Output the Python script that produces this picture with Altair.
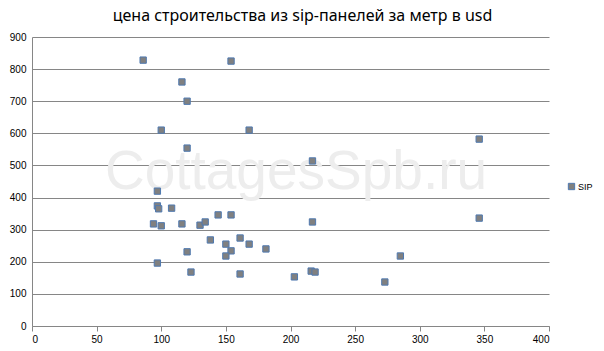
import altair as alt
import pandas as pd

# Data
area_m2 = [86, 154, 116, 120, 100, 168, 120, 346, 217, 97,
           97, 98, 108, 94, 100, 116, 130, 134, 144, 154,
           138, 150, 161, 168, 181, 120, 154, 150, 97, 123,
           161, 203, 216, 219, 273, 285, 346, 217]
price_usd = [828, 825, 760, 700, 610, 610, 554, 582, 514, 420,
             374, 365, 367, 318, 312, 318, 314, 324, 346, 346,
             268, 255, 274, 255, 240, 231, 234, 218, 196, 168,
             162, 153, 171, 168, 137, 218, 336, 324]
series = ["SIP"] * len(area_m2)

title_text = "цена строительства из sip-панелей за метр в usd"
watermark = "CottagesSpb.ru"

df = pd.DataFrame({"x": area_m2, "y": price_usd, "s": series})

W, H = 517, 289

mark = alt.Chart(df).mark_point(
    shape="square", filled=True, size=40, fill="#808080",
    stroke="#4f79b0", strokeWidth=1, opacity=1
).encode(
    x=alt.X("x:Q", scale=alt.Scale(domain=[0, 400], nice=False),
            axis=alt.Axis(values=list(range(0, 401, 50)), grid=False, title=None,
                          domainColor="#868686", tickColor="#868686", tickSize=5,
                          labelFontSize=10, labelColor="#000000", labelPadding=3,
                          labelFont="Liberation Sans")),
    y=alt.Y("y:Q", scale=alt.Scale(domain=[0, 900], nice=False),
            axis=alt.Axis(values=list(range(0, 901, 100)), grid=True, gridColor="#868686",
                          gridWidth=1, title=None, domainColor="#868686", ticks=False,
                          labelFontSize=10, labelColor="#000000", labelPadding=6,
                          labelFont="Liberation Sans")),
    color=alt.Color("s:N", scale=alt.Scale(range=["#808080"]),
                    legend=alt.Legend(title=None, orient="none", legendX=535, legendY=145,
                                      symbolType="square", symbolSize=40,
                                      symbolStrokeColor="#4f79b0", symbolStrokeWidth=1,
                                      labelFontSize=9, labelFont="Liberation Sans",
                                      labelOffset=2)),
)

wm = alt.Chart(pd.DataFrame({"t": [watermark]})).mark_text(
    font="Liberation Sans Narrow, Liberation Sans", fontSize=55, color="#ededed",
    align="center", baseline="alphabetic"
).encode(text="t:N", x=alt.value(264), y=alt.value(152))

chart = alt.layer(wm, mark).properties(
    width=W, height=H,
    title=alt.TitleParams(title_text, fontSize=16, font="Noto Sans", fontWeight="normal",
                          color="#000000", offset=8, dx=12),
    autosize=alt.AutoSizeParams(type="none"),
    padding={"left": 32, "top": 37, "right": 55, "bottom": 25},
).configure_view(stroke=None)

chart.save("out.html", embed_options={"renderer": "svg", "actions": False})
